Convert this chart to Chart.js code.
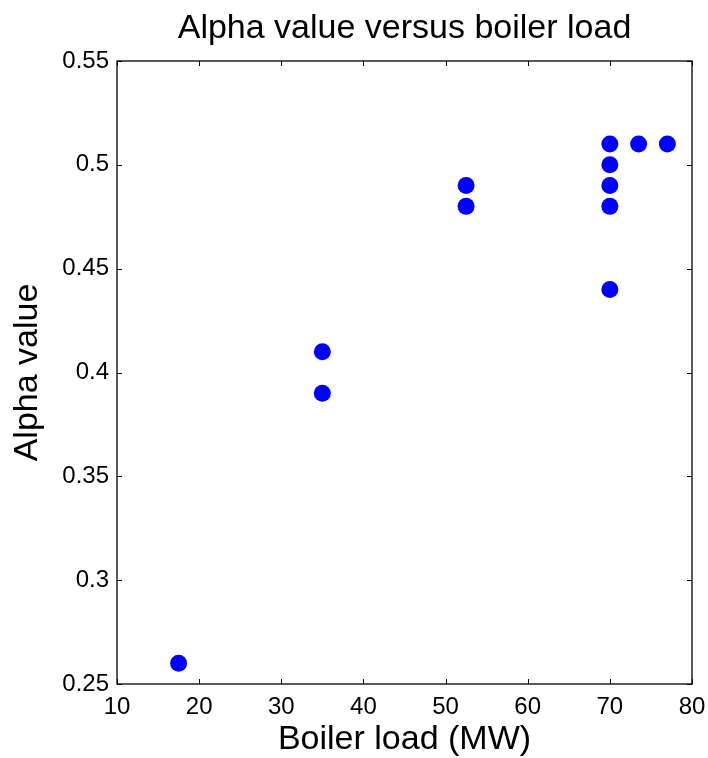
<!DOCTYPE html>
<html>
<head>
<meta charset="utf-8">
<script src="https://cdn.jsdelivr.net/npm/chart.js@4/dist/chart.umd.min.js"></script>
<style>
    body { margin: 0; background: #fff; }
    #wrap { width: 708px; height: 758px; }
</style>
</head>
<body>
<div id="wrap"><canvas id="scatter" width="708" height="758"></canvas></div>
<script>
// boiler load (MW) and alpha value
const boilerLoad = [17.5, 35, 35, 52.5, 52.5, 70, 70, 70, 70, 70, 73.5, 77];
const alphaValue = [0.26, 0.41, 0.39, 0.49, 0.48, 0.51, 0.50, 0.49, 0.48, 0.44, 0.51, 0.51];

const xTicks = [10, 20, 30, 40, 50, 60, 70, 80];
const yTicks = [0.25, 0.3, 0.35, 0.4, 0.45, 0.5, 0.55];

const FONT = "'Liberation Sans', Arial, sans-serif";

let points = [];
for (let i = 0; i < boilerLoad.length; i++) {
    points.push({x: boilerLoad[i], y: alphaValue[i]});
}

// matlab style box with ticks pointing inward on all four sides
const boxTicks = {
    id: 'boxTicks',
    afterLayout(chart) {
        // centre the title over the plot box, not the whole canvas
        const t = chart.titleBlock;
        t.left = chart.chartArea.left;
        t.right = chart.chartArea.right;
        t.width = t.right - t.left;
    },
    afterDraw(chart) {
        const ctx = chart.ctx;
        const area = chart.chartArea;
        const len = 5;
        ctx.save();
        ctx.strokeStyle = '#000';
        ctx.lineWidth = 1;
        ctx.beginPath();
        for (const v of xTicks) {
            const px = Math.round(chart.scales.x.getPixelForValue(v)) + 0.5;
            ctx.moveTo(px, area.bottom);
            ctx.lineTo(px, area.bottom - len);
            ctx.moveTo(px, area.top);
            ctx.lineTo(px, area.top + len);
        }
        for (const v of yTicks) {
            const py = Math.round(chart.scales.y.getPixelForValue(v)) + 0.5;
            ctx.moveTo(area.left, py);
            ctx.lineTo(area.left + len, py);
            ctx.moveTo(area.right, py);
            ctx.lineTo(area.right - len, py);
        }
        ctx.stroke();
        ctx.lineWidth = 1.3;
        ctx.strokeRect(area.left, area.top, area.right - area.left, area.bottom - area.top);
        ctx.restore();
    }
};

new Chart(document.getElementById('scatter'), {
    type: 'scatter',
    data: {
        datasets: [{
            label: 'Alpha',
            data: points,
            backgroundColor: '#0000ff',
            borderWidth: 0,
            pointRadius: 8.5,
            pointHoverRadius: 8.5
        }]
    },
    options: {
        responsive: false,
        animation: false,
        layout: {padding: {left: 0, right: 16, top: 0, bottom: 0}},
        plugins: {
            legend: {display: false},
            tooltip: {enabled: false},
            title: {
                display: true,
                text: 'Alpha value versus boiler load',
                color: '#000',
                font: {family: FONT, size: 34, weight: 'normal'},
                padding: {top: 8.6, bottom: 11.6}
            }
        },
        scales: {
            x: {
                type: 'linear',
                min: 10,
                max: 80,
                grid: {display: false, drawTicks: false},
                border: {display: false},
                afterBuildTicks(scale) {
                    scale.ticks = xTicks.map(v => ({value: v}));
                },
                afterFit(scale) {
                    scale.height = 74;
                    scale.paddingLeft = 0;
                    scale.paddingRight = 0;
                },
                ticks: {
                    color: '#000',
                    padding: 9,
                    maxRotation: 0,
                    font: {family: FONT, size: 24}
                },
                title: {
                    display: true,
                    text: 'Boiler load (MW)',
                    color: '#000',
                    font: {family: FONT, size: 34, lineHeight: 1},
                    padding: {top: 0, bottom: 1}
                }
            },
            y: {
                type: 'linear',
                min: 0.25,
                max: 0.55,
                grid: {display: false, drawTicks: false},
                border: {display: false},
                afterBuildTicks(scale) {
                    scale.ticks = yTicks.map(v => ({value: v}));
                },
                afterFit(scale) {
                    scale.width = 117;
                    scale.paddingTop = 0;
                    scale.paddingBottom = 0;
                },
                ticks: {
                    color: '#000',
                    padding: 8,
                    font: {family: FONT, size: 24},
                    callback: v => String(Number(v.toFixed(2)))
                },
                title: {
                    display: true,
                    text: 'Alpha value',
                    color: '#000',
                    font: {family: FONT, size: 34},
                    padding: {top: 7.6, bottom: 0}
                }
            }
        }
    },
    plugins: [boxTicks]
});
</script>
</body>
</html>
